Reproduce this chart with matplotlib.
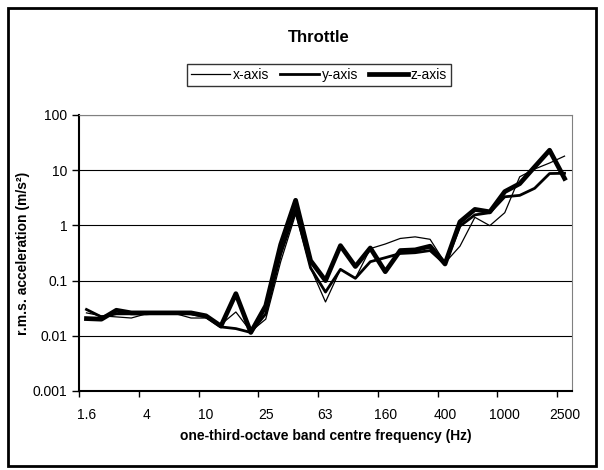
import matplotlib
matplotlib.use("Agg")
import matplotlib.pyplot as plt
from matplotlib.patches import Rectangle

plt.rcParams['font.family'] = ['Liberation Sans', 'DejaVu Sans']

# one-third-octave band centre frequencies (Hz)
bands = ['1.6', '2', '2.5', '3.15', '4', '5', '6.3', '8', '10', '12.5', '16', '20',
         '25', '31.5', '40', '50', '63', '80', '100', '125', '160', '200', '250',
         '315', '400', '500', '630', '800', '1000', '1250', '1600', '2000', '2500']

# r.m.s. acceleration (m/s^2)
x_axis = [0.026, 0.023, 0.022, 0.021, 0.025, 0.025, 0.025, 0.021, 0.021, 0.016,
          0.027, 0.012, 0.020, 0.22, 1.6, 0.17, 0.041, 0.16, 0.11, 0.38, 0.46,
          0.58, 0.62, 0.56, 0.21, 0.42, 1.4, 0.99, 1.7, 7.6, 10.5, 13.5, 18.0]
y_axis = [0.030, 0.022, 0.025, 0.025, 0.025, 0.026, 0.026, 0.025, 0.022, 0.0145,
          0.0135, 0.0115, 0.025, 0.30, 1.9, 0.17, 0.062, 0.16, 0.11, 0.22, 0.26,
          0.31, 0.32, 0.35, 0.20, 0.97, 1.55, 1.7, 3.3, 3.5, 4.7, 8.7, 8.8]
z_axis = [0.0205, 0.020, 0.029, 0.026, 0.026, 0.026, 0.026, 0.026, 0.023, 0.015,
          0.058, 0.0115, 0.035, 0.45, 2.85, 0.23, 0.10, 0.43, 0.18, 0.39, 0.145,
          0.35, 0.36, 0.42, 0.20, 1.16, 1.95, 1.76, 4.1, 5.7, 11.5, 23.0, 7.1]

y_ticks = [0.001, 0.01, 0.1, 1, 10, 100]
y_tick_labels = ['0.001', '0.01', '0.1', '1', '10', '100']
label_every = 4

fig = plt.figure(figsize=(6.04, 4.70), dpi=100)
# chart-area border like the spreadsheet export
fig.patches.append(Rectangle((8 / 604, 4 / 470), 588 / 604, 458 / 470,
                             transform=fig.transFigure, fill=False,
                             edgecolor='black', linewidth=2))

ax = fig.add_axes([79 / 604, 79 / 470, 493 / 604, 276 / 470])
pos = list(range(len(bands)))

ax.plot(pos, x_axis, color='black', linewidth=0.9, label='x-axis')
ax.plot(pos, y_axis, color='black', linewidth=2.0, label='y-axis')
ax.plot(pos, z_axis, color='black', linewidth=3.4, label='z-axis')

ax.set_yscale('log')
ax.set_ylim(0.001, 100)
ax.set_yticks(y_ticks)
ax.set_yticklabels(y_tick_labels)
ax.yaxis.set_minor_locator(matplotlib.ticker.NullLocator())
ax.grid(True, axis='y', color='black', linewidth=0.8)

# labels sit on the bands, tick marks between them
ax.set_xlim(-0.5, len(bands) - 0.5)
ax.set_xticks(pos[::label_every])
ax.set_xticklabels(bands[::label_every])
ax.set_xticks([p - 0.5 for p in pos[::label_every]], minor=True)
ax.tick_params(axis='x', which='major', length=0, pad=12, labelsize=10)
ax.tick_params(axis='x', which='minor', length=4, width=1)
ax.tick_params(axis='y', which='major', length=5, width=1, labelsize=10)

ax.spines['left'].set_linewidth(1.5)
ax.spines['bottom'].set_linewidth(1.5)
ax.spines['top'].set_color('#808080')
ax.spines['right'].set_color('#808080')

ax.set_xlabel('one-third-octave band centre frequency (Hz)', fontsize=10,
              fontweight='bold', labelpad=5)
ax.set_ylabel('r.m.s. acceleration (m/s²)', fontsize=10, fontweight='bold',
              labelpad=2)

fig.text(319 / 604, 1 - 38 / 470, 'Throttle', ha='center', va='center',
         fontsize=12, fontweight='bold')
leg = fig.legend(loc='center', bbox_to_anchor=(319 / 604, 1 - 75 / 470), ncol=3,
                 fontsize=10, frameon=True, fancybox=False, edgecolor='black',
                 handlelength=2.8, handletextpad=0.2, columnspacing=0.8,
                 borderpad=0.3, borderaxespad=0)
leg.get_frame().set_linewidth(1)

fig.savefig('out.png', dpi=100)
